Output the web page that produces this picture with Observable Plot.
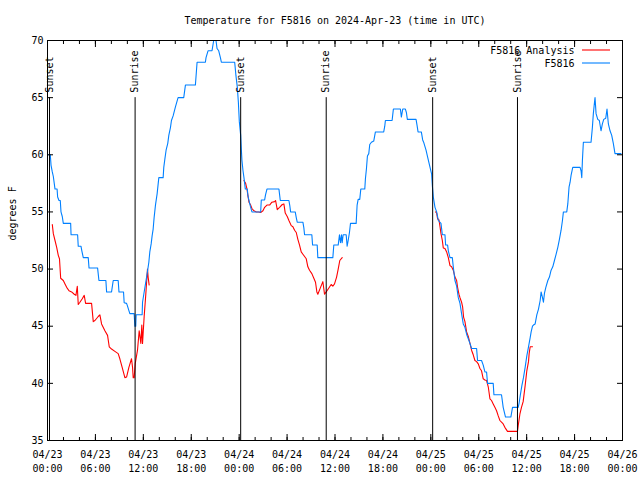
<!DOCTYPE html>
<html><head><meta charset="utf-8">
<script src="https://cdn.jsdelivr.net/npm/d3@7"></script>
<script src="https://cdn.jsdelivr.net/npm/@observablehq/plot@0.6"></script>
<style>body{margin:0;background:#fff} svg{display:block}</style>
</head><body><div id="chart"></div>
<script>
const titleText = "Temperature for F5816 on 2024-Apr-23 (time in UTC)";
const yLabel = "degrees F";
const seriesNames = ["F5816 Analysis", "F5816"];
const seriesColors = ["#ff0000", "#0080ff"];
const startUTC = Date.UTC(2024, 3, 23);
const spanHours = 72;
const yDomain = [35, 70];
const yTicks = [35, 40, 45, 50, 55, 60, 65, 70];
const majorTickHours = [0, 6, 12, 18, 24, 30, 36, 42, 48, 54, 60, 66, 72];
const minorTickHours = d3.range(0, 73, 2);
const eventNames = ["Sunset", "Sunrise", "Sunset", "Sunrise", "Sunset", "Sunrise"];
const eventHours = [0.25, 10.97, 24.19, 34.9, 48.23, 58.85];
const eventTop = 65;

// F5816 observations: [hours since 04/23 00:00 UTC, deg F]
const stationReadings = [
[0.15,60.0],[0.35,60.0],[0.44,59.1],[0.6,58.5],[0.73,58.1],[0.94,57.0],[1.2,57.0],[1.27,56.3],[1.44,56.0],[1.6,56.0],
[1.69,55.0],[1.85,54.6],[1.98,54.0],[2.9,54.0],[2.95,53.0],[3.77,53.0],[3.85,52.0],[4.19,52.0],[4.3,51.6],[4.48,51.0],
[5.1,51.0],[5.2,50.1],[6.27,50.1],[6.44,49.0],[7.31,49.0],[7.4,48.0],[8.02,48.0],[8.23,49.0],[8.85,49.0],[8.95,48.0],
[9.52,48.0],[9.6,47.05],[9.9,47.0],[10.0,46.8],[10.31,46.1],[10.85,46.1],[10.94,45.0],[11.05,45.0],[11.1,46.0],[11.85,46.0],
[11.9,47.1],[12.06,47.8],[12.27,48.7],[12.48,49.6],[12.69,50.6],[12.81,51.5],[12.98,52.2],[13.1,52.9],[13.23,53.5],[13.35,54.5],
[13.52,55.6],[13.73,56.6],[13.94,58.0],[14.48,58.0],[14.56,58.9],[14.69,59.6],[14.85,60.4],[15.06,61.0],[15.19,61.7],[15.4,62.4],
[15.52,63.0],[15.73,63.4],[16.02,64.2],[16.35,65.0],[17.06,65.0],[17.27,66.1],[18.52,66.1],[18.73,68.1],[19.77,68.1],[19.85,68.5],
[20.1,69.1],[20.6,69.1],[20.81,70.0],[21.1,70.0],[21.23,69.3],[21.44,69.1],[21.65,68.5],[21.77,68.1],[23.44,68.1],[23.6,66.9],
[23.77,65.9],[23.9,64.6],[24.02,62.9],[24.19,61.7],[24.27,60.5],[24.35,59.5],[24.48,58.6],[24.6,58.0],[24.77,57.0],[25.02,57.0],
[25.1,56.4],[25.23,56.0],[25.4,55.5],[25.6,55.0],[26.69,55.0],[26.77,56.05],[27.19,56.05],[27.3,56.5],[27.48,57.0],[28.98,57.0],
[29.15,56.0],[30.23,56.0],[30.35,55.5],[30.44,55.0],[31.02,55.0],[31.15,54.5],[31.27,54.1],[31.98,54.1],[32.1,53.6],[32.19,53.0],
[33.1,53.0],[33.19,52.1],[33.77,52.1],[33.85,51.0],[35.73,51.0],[35.85,52.1],[36.4,52.1],[36.56,53.0],[36.69,52.3],[36.81,53.0],
[36.9,52.3],[37.02,53.0],[37.4,53.0],[37.52,52.0],[37.65,52.5],[37.81,53.2],[37.94,54.0],[38.65,54.0],[38.77,55.6],[38.9,56.1],
[39.1,56.1],[39.23,57.0],[39.73,57.0],[39.81,57.9],[39.94,58.8],[40.06,59.9],[40.23,60.1],[40.35,60.9],[40.56,61.1],[40.85,61.2],
[41.06,62.0],[42.1,62.0],[42.23,62.5],[42.31,63.0],[43.15,63.0],[43.31,64.0],[44.19,64.0],[44.31,63.3],[44.48,64.0],[44.81,64.0],
[44.94,63.7],[45.06,63.1],[46.15,63.1],[46.27,62.6],[46.4,62.0],[46.81,62.0],[46.98,61.3],[47.1,61.1],[47.23,60.8],[47.4,60.4],
[47.6,59.8],[47.9,58.9],[48.1,58.3],[48.19,57.3],[48.31,56.3],[48.52,55.4],[48.73,55.0],[48.94,54.25],[49.27,54.0],[49.44,53.0],
[49.77,53.0],[49.85,52.1],[50.1,52.1],[50.19,51.6],[50.4,51.0],[50.69,51.0],[50.81,50.2],[51.02,49.0],[51.23,48.5],[51.44,47.5],
[51.65,47.0],[51.85,46.1],[52.06,45.2],[52.27,44.9],[52.48,44.3],[52.69,43.9],[52.9,43.5],[53.1,43.05],[53.73,43.05],[53.85,42.0],
[54.35,42.0],[54.56,41.6],[54.77,41.0],[54.98,41.0],[55.1,40.0],[55.81,40.0],[55.9,39.0],[56.85,39.0],[57.06,37.9],[57.35,37.05],
[58.02,37.05],[58.23,37.9],[58.94,37.9],[59.06,38.3],[59.19,38.9],[59.4,39.8],[59.6,40.5],[59.81,41.4],[60.02,42.4],[60.23,43.2],
[60.44,44.0],[60.56,44.5],[60.73,45.0],[60.85,45.1],[61.06,45.2],[61.27,46.0],[61.48,46.5],[61.69,47.25],[61.81,48.0],[61.98,47.5],
[62.1,47.1],[62.23,47.9],[62.4,48.4],[62.65,49.0],[62.85,49.3],[63.06,49.9],[63.27,50.2],[63.48,50.75],[63.69,51.3],[63.9,51.9],
[64.1,52.6],[64.31,53.4],[64.48,54.25],[64.6,55.0],[65.02,55.0],[65.15,55.7],[65.31,57.2],[65.44,57.6],[65.56,58.2],[65.77,58.9],
[66.69,58.9],[66.81,58.6],[66.9,58.0],[66.98,59.5],[67.1,61.1],[68.06,61.1],[68.23,62.4],[68.35,63.6],[68.48,64.5],[68.56,65.0],
[68.69,63.6],[68.9,63.1],[69.1,63.0],[69.31,62.1],[69.48,62.7],[69.65,63.1],[69.9,63.2],[70.06,64.0],[70.23,62.7],[70.44,62.1],
[70.65,61.7],[70.85,61.0],[71.06,60.1],[71.81,60.1]
];

// F5816 Analysis, three overnight runs
const analysisNight1 = [
[0.6,53.9],[0.73,53.1],[0.94,52.5],[1.15,51.9],[1.35,51.2],[1.5,50.9],[1.65,49.2],[1.98,49.0],[2.19,48.7],[2.4,48.4],
[2.69,48.1],[3.02,48.0],[3.35,47.8],[3.56,47.7],[3.73,48.5],[3.85,46.9],[4.06,47.1],[4.35,47.4],[4.6,47.7],[4.77,47.0],
[5.52,47.0],[5.73,45.4],[5.94,45.5],[6.35,45.85],[6.56,46.0],[6.77,45.2],[7.19,44.6],[7.52,44.2],[7.73,43.2],[8.02,43.0],
[8.44,42.8],[8.85,42.6],[9.06,42.15],[9.35,41.4],[9.69,40.5],[9.9,40.55],[10.19,41.4],[10.52,42.15],[10.65,41.4],[10.73,40.5],
[10.85,40.5],[10.98,41.7],[11.27,42.9],[11.48,44.6],[11.69,43.5],[11.81,45.1],[11.9,43.5],[12.1,45.8],[12.31,47.8],[12.52,50.0],
[12.6,49.3],[12.73,48.6]
];
const analysisNight2 = [
[24.6,57.75],[24.81,57.5],[24.98,57.0],[25.1,56.4],[25.23,55.85],[25.44,55.6],[25.6,55.3],[25.85,55.1],[26.15,55.0],[26.44,55.0],
[26.69,54.95],[26.98,55.1],[27.19,55.4],[27.48,55.6],[27.81,55.6],[28.1,55.85],[28.44,55.9],[28.56,56.0],[28.77,55.2],[29.06,55.4],
[29.4,55.65],[29.6,55.7],[29.77,54.9],[30.02,54.6],[30.23,54.25],[30.52,53.8],[30.73,53.7],[30.94,53.4],[31.15,53.2],[31.35,52.6],
[31.56,52.1],[31.77,51.5],[31.98,51.3],[32.19,51.1],[32.4,50.9],[32.6,50.2],[32.81,49.9],[33.1,49.6],[33.35,49.2],[33.56,48.85],
[33.73,48.0],[33.85,47.8],[34.19,48.4],[34.48,48.9],[34.69,47.8],[34.9,48.0],[35.19,48.3],[35.52,48.65],[35.73,48.5],[35.94,48.7],
[36.2,49.3],[36.4,50.0],[36.6,50.75],[36.9,51.0]
];
const analysisNight3 = [
[48.6,55.0],[48.73,54.9],[48.85,54.4],[49.02,54.3],[49.15,53.7],[49.27,53.1],[49.44,52.5],[49.56,51.85],[49.77,51.8],[49.98,51.5],
[50.19,51.0],[50.4,50.3],[50.6,50.2],[50.81,49.9],[51.02,49.3],[51.23,49.0],[51.35,48.4],[51.52,47.8],[51.65,47.5],[51.85,47.1],
[51.98,46.7],[52.1,45.8],[52.27,45.4],[52.48,44.5],[52.69,44.1],[52.9,43.5],[53.1,42.9],[53.31,42.5],[53.52,42.0],[53.73,41.9],
[53.94,41.7],[54.15,41.3],[54.35,41.1],[54.56,40.4],[54.77,40.3],[54.98,40.25],[55.19,39.7],[55.4,38.65],[55.6,38.5],[55.81,38.2],
[56.02,37.9],[56.23,37.6],[56.44,37.15],[56.65,36.75],[56.85,36.6],[57.06,36.45],[57.27,36.15],[57.6,35.8],[58.85,35.8],[58.94,36.3],
[59.15,37.3],[59.35,37.9],[59.56,38.4],[59.81,39.8],[60.02,41.1],[60.23,41.9],[60.31,42.6],[60.44,43.2],[60.73,43.2]
];

const toDate = h => new Date(startUTC + h * 3600e3);
const station = stationReadings.map(([h, v]) => ({t: toDate(h), v}));
const analysis = [analysisNight1, analysisNight2, analysisNight3]
  .flatMap((run, k) => run.map(([h, v]) => ({t: toDate(h), v, run: k})));
const events = eventNames.map((name, i) => ({name, t: toDate(eventHours[i])}));
const majorTicks = majorTickHours.map(toDate);
const minorTicks = minorTickHours.map(toDate);
const fmt = d3.utcFormat("%m/%d\n%H:%M");

const plot = Plot.plot({
  width: 640, height: 480,
  marginTop: 40, marginBottom: 40, marginLeft: 47, marginRight: 18,
  style: {fontFamily: "'DejaVu Sans Mono', monospace", fontSize: "10px", background: "white", color: "black"},
  x: {type: "utc", domain: [toDate(0), toDate(spanHours)], label: null},
  y: {domain: yDomain, label: null},
  marks: [
    Plot.line(analysis, {x: "t", y: "v", z: "run", stroke: seriesColors[0], strokeWidth: 1.1}),
    Plot.line(station, {x: "t", y: "v", stroke: seriesColors[1], strokeWidth: 1.1}),
    Plot.ruleX(events, {x: "t", y1: eventTop, y2: yDomain[0], stroke: "black", strokeWidth: 1}),
    Plot.text(events, {x: "t", y: eventTop, text: "name", rotate: -90, textAnchor: "start", dy: -5, fill: "black"}),
    Plot.frame({stroke: "black"}),
    Plot.axisX({anchor: "bottom", ticks: majorTicks, tickSize: 0, tickPadding: 8, tickFormat: fmt, lineHeight: 1.35, label: null}),
    Plot.axisX({anchor: "bottom", ticks: majorTicks, tickSize: -6, tickFormat: () => "", label: null}),
    Plot.axisX({anchor: "bottom", ticks: minorTicks, tickSize: -3, tickFormat: () => "", label: null}),
    Plot.axisX({anchor: "top", ticks: majorTicks, tickSize: -6, tickFormat: () => "", label: null}),
    Plot.axisX({anchor: "top", ticks: minorTicks, tickSize: -3, tickFormat: () => "", label: null}),
    Plot.axisY({anchor: "left", ticks: yTicks, tickSize: 0, tickPadding: 4, label: null}),
    Plot.axisY({anchor: "left", ticks: yTicks, tickSize: -6, tickFormat: () => "", label: null}),
    Plot.axisY({anchor: "right", ticks: yTicks, tickSize: -6, tickFormat: () => "", label: null}),
    Plot.text([yLabel], {text: d => d, frameAnchor: "left", dx: -35, rotate: -90, lineAnchor: "middle"}),
    Plot.text([titleText], {text: d => d, frameAnchor: "top", dy: -20, lineAnchor: "middle"}),
    Plot.text([seriesNames[0]], {text: d => d, frameAnchor: "top-right", textAnchor: "end", lineAnchor: "middle", dx: -48, dy: 10}),
    Plot.text([seriesNames[1]], {text: d => d, frameAnchor: "top-right", textAnchor: "end", lineAnchor: "middle", dx: -48, dy: 23})
  ]
});
document.getElementById("chart").appendChild(plot);

// legend line samples
const xr = plot.scale("x").range, yr = plot.scale("y").range;
const svg = d3.select(plot.tagName.toLowerCase() === "svg" ? plot : plot.querySelector("svg"));
seriesColors.forEach((c, i) => {
  const y = Math.min(...yr) + 10 + 13 * i;
  svg.append("line").attr("x1", Math.max(...xr) - 40).attr("x2", Math.max(...xr) - 12)
    .attr("y1", y).attr("y2", y).attr("stroke", c).attr("stroke-width", 1.1);
});
</script>
</body></html>
